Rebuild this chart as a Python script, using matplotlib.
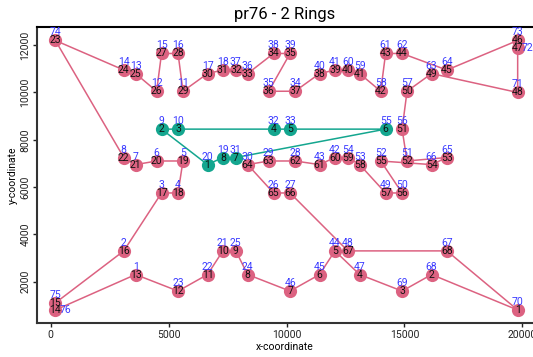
import matplotlib
matplotlib.use("Agg")
import matplotlib.pyplot as plt

# pr76 city coordinates (city id = index + 1)
city_x = [3600, 3100, 4700, 5400, 5608, 4493, 3600, 3100, 4700, 5400,
          5610, 4492, 3600, 3100, 4700, 5400, 6650, 7300, 7300, 6650,
          7300, 6650, 5400, 8350, 7850, 9450, 10150, 10358, 9243, 8350,
          7850, 9450, 10150, 10360, 9243, 8350, 7850, 9450, 10150, 11400,
          12050, 12050, 11400, 12050, 11400, 10150, 13100, 12600, 14200, 14900,
          15108, 13993, 13100, 12600, 14200, 14900, 15110, 13993, 13100, 12600,
          14200, 14900, 16150, 16800, 16800, 16150, 16800, 16150, 14900, 19800,
          19800, 19800, 19800, 200, 200, 200]
city_y = [2300, 3300, 5750, 5750, 7103, 7102, 6950, 7250, 8450, 8450,
          10053, 10052, 10800, 10950, 11650, 11650, 10800, 10950, 7250, 6950,
          3300, 2300, 1600, 2300, 3300, 5750, 5750, 7103, 7102, 6950,
          7250, 8450, 8450, 10053, 10052, 10800, 10950, 11650, 11650, 10800,
          10950, 7250, 6950, 3300, 2300, 1600, 2300, 3300, 5750, 5750,
          7103, 7102, 6950, 7250, 8450, 8450, 10053, 10052, 10800, 10950,
          11650, 11650, 10800, 10950, 7250, 6950, 3300, 2300, 1600, 800,
          10000, 11900, 12200, 12200, 1100, 800]

# tours, as city ids in visiting order
ring_red = [70, 68, 69, 47, 44, 45, 46, 24, 25, 21, 22, 23, 1, 76, 75, 2, 3, 4,
            5, 6, 7, 8, 74, 14, 13, 12, 15, 16, 11, 17, 18, 37, 36, 38, 39, 35,
            34, 40, 41, 60, 59, 58, 61, 62, 64, 73, 72, 71, 63, 57, 56, 51, 65,
            66, 52, 50, 49, 53, 54, 42, 43, 28, 29, 30, 26, 27, 48, 67]
ring_green = [20, 9, 10, 32, 33, 55, 31, 19]

ring_colors = ["#dc6281", "#14a68f"]

# blue city-id labels that sit beside the marker instead of above it
side_labels = {76: (10, 0), 72: (10, 0)}

plt.rcParams['font.family'] = ['Roboto', 'DejaVu Sans']

fig = plt.figure(figsize=(5.33, 3.57), dpi=100)
ax = fig.add_axes([37 / 533, 34 / 357, 496 / 533, 296 / 357])

for ring, color in zip([ring_red, ring_green], ring_colors):
    xs = [city_x[c - 1] for c in ring] + [city_x[ring[0] - 1]]
    ys = [city_y[c - 1] for c in ring] + [city_y[ring[0] - 1]]
    ax.plot(xs, ys, color=color, lw=1.1, zorder=1)
    ax.plot(xs[:-1], ys[:-1], 'o', color=color, ms=9.5, mec='none', zorder=2)
    for pos, c in enumerate(ring, start=1):
        x, y = city_x[c - 1], city_y[c - 1]
        ax.text(x, y, str(pos), ha='center', va='center', fontsize=7.5,
                color='#111111', zorder=3)
        dx, dy = side_labels.get(c, (0, 8))
        ax.annotate(str(c), (x, y), xytext=(dx, dy), textcoords='offset pixels',
                    ha='center', va='center', fontsize=7.5, color='#3a3aff',
                    zorder=4)

ax.set_xlim(-580, 20450)
ax.set_ylim(250, 12770)
ax.set_xticks([0, 5000, 10000, 15000, 20000])
ax.set_yticks([2000, 4000, 6000, 8000, 10000, 12000])
ax.tick_params(labelsize=7.5, length=2.8, width=1, pad=2, colors='#222222')
for lbl in ax.get_yticklabels():
    lbl.set_rotation(90)
    lbl.set_va('center')

ax.spines['right'].set_visible(False)
ax.spines['top'].set_linewidth(1.5)
ax.spines['top'].set_color('black')
for s in ['left', 'bottom']:
    ax.spines[s].set_linewidth(1.5)
    ax.spines[s].set_color('#333333')

ax.set_xlabel("x-coordinate", fontsize=7.5, labelpad=2)
ax.set_ylabel("y-coordinate", fontsize=7.5, labelpad=2)
ax.set_title("pr76 - 2 Rings", fontsize=12, pad=6)

fig.savefig("out.png", dpi=100)
plt.close(fig)
